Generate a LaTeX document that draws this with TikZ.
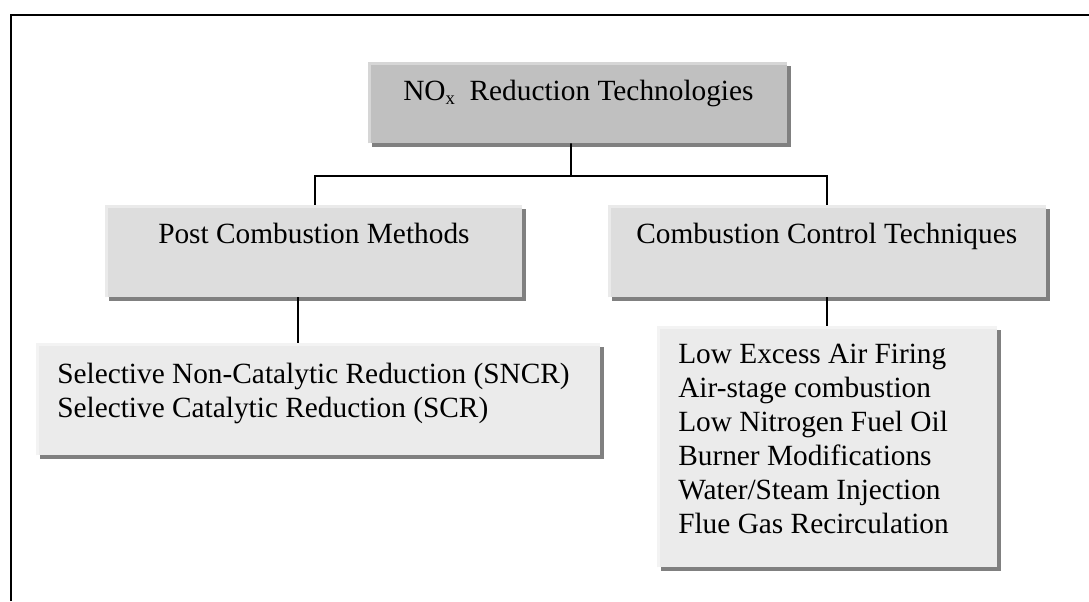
\documentclass[tikz,border=0pt]{standalone}
\usepackage{fontspec}
\setmainfont{Liberation Serif}
\usetikzlibrary{calc,shadows}
\definecolor{headfill}{HTML}{C0C0C0}
\definecolor{headlight}{HTML}{D6D6D6}
\definecolor{midfill}{HTML}{DDDDDD}
\definecolor{midlight}{HTML}{EAEAEA}
\definecolor{lowfill}{HTML}{EBEBEB}
\definecolor{lowlight}{HTML}{F3F3F3}
\definecolor{shade}{HTML}{808080}
\tikzset{
  panel/.style={rectangle, inner sep=0pt, draw=none,
    drop shadow={opacity=1, fill=shade, shadow xshift=3pt, shadow yshift=-3pt}},
  boxtext/.style={anchor=base west, inner sep=0pt, font=\fontsize{22}{25.5}\selectfont},
  link/.style={line width=1.2pt, black},
}
% light bevel along the top and left edges of a panel
\newcommand\bevelpanel[2]{%
  \draw[#2, line width=2.25pt] ([xshift=1.125pt]#1.south west) |- ([yshift=-1.125pt]#1.north east);}
\begin{document}
\begin{tikzpicture}[x=0.75pt,y=-0.75pt]
\useasboundingbox (0,0) rectangle (1089,601);
\fill[white] (0,0) rectangle (1089,601);
% outer frame
\draw[line width=1.7pt] (11,601) -- (11,15) -- (1089,15);

% panels
\node[panel, fill=headfill, minimum width=314.25pt, minimum height=60.75pt] (top) at (577.5,102.5) {};
\node[panel, fill=midfill, minimum width=312.75pt, minimum height=69pt] (post) at (313.5,251) {};
\node[panel, fill=midfill, minimum width=328.5pt, minimum height=69pt] (ctrl) at (827,251) {};
\node[panel, fill=lowfill, minimum width=423pt, minimum height=84pt] (sncr) at (318,399) {};
\node[panel, fill=lowfill, minimum width=255pt, minimum height=180.75pt] (low) at (827,446.5) {};
\bevelpanel{top}{headlight}
\bevelpanel{post}{midlight}
\bevelpanel{ctrl}{midlight}
\bevelpanel{sncr}{lowlight}
\bevelpanel{low}{lowlight}

% connectors
\coordinate (fork) at (571,176);
\draw[link] ([xshift=-4.9pt]top.south) -- (fork);
\draw[link] ([xshift=1.1pt]post.north) |- (fork) -| (ctrl.north);
\draw[link] ([xshift=-11.6pt]post.south) -- ([xshift=-11.6pt]post.south |- sncr.north);
\draw[link] (ctrl.south) -- (low.north);

% texts
\node[boxtext] (ttop) at (403,100) {NO\raisebox{-3pt}{\fontsize{14}{14}\selectfont x}\ \ Reduction Technologies};
\node[boxtext] (tpost) at (158,243) {Post Combustion Methods};
\node[boxtext] (tctrl) at (636,243) {Combustion Control Techniques};
\node[boxtext] (ts1) at (57,383) {Selective Non-Catalytic Reduction (SNCR)};
\node[boxtext] (ts2) at (57,417) {Selective Catalytic Reduction (SCR)};
\foreach \t [count=\i from 0] in {Low Excess Air Firing, Air-stage combustion, Low Nitrogen Fuel Oil, Burner Modifications, Water/Steam Injection, Flue Gas Recirculation}
  \node[boxtext] (tl\i) at (678,363+34*\i) {\t};
\end{tikzpicture}
\end{document}
